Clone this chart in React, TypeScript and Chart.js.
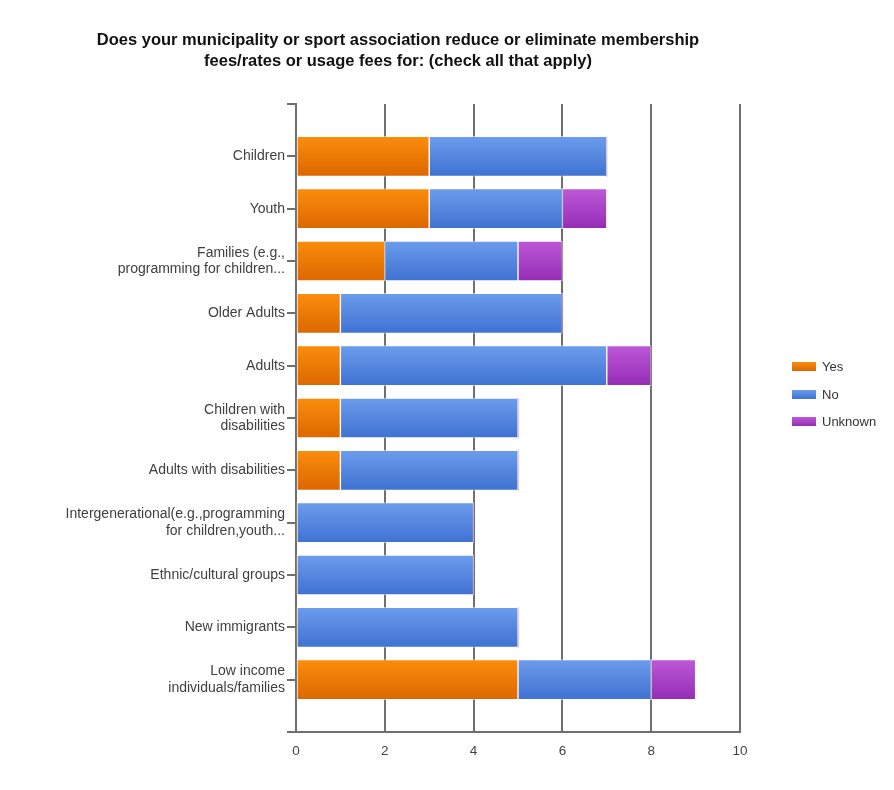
import React, { useEffect, useRef } from "react";
import { Chart, registerables } from "chart.js";

Chart.register(...registerables);

const titleLines = [
  "Does your municipality or sport association reduce or eliminate membership",
  "fees/rates or usage fees for: (check all that apply)",
];

const categories: (string | string[])[] = [
  "Children",
  "Youth",
  ["Families (e.g.,", "programming for children..."],
  "Older Adults",
  "Adults",
  ["Children with", "disabilities"],
  "Adults with disabilities",
  ["Intergenerational(e.g.,programming", "for children,youth..."],
  "Ethnic/cultural groups",
  "New immigrants",
  ["Low income", "individuals/families"],
];

const seriesNames = ["Yes", "No", "Unknown"];
const yesValues = [3, 3, 2, 1, 1, 1, 1, 0, 0, 0, 5];
const noValues = [4, 3, 3, 5, 6, 4, 4, 4, 4, 5, 3];
const unknownValues = [0, 1, 1, 0, 1, 0, 0, 0, 0, 0, 1];

const xTickValues = [0, 2, 4, 6, 8, 10];

const palette = [
  { top: "#fb8d0c", bottom: "#dc6700" },
  { top: "#6b9cec", bottom: "#3f72d2" },
  { top: "#bd58d8", bottom: "#952db4" },
];

const FONT = "'Liberation Sans', Arial, sans-serif";
const BAR_THICKNESS = 40;

export default function App() {
  const canvasRef = useRef<HTMLCanvasElement | null>(null);

  useEffect(() => {
    const canvas = canvasRef.current;
    if (!canvas) return;

    const seriesValues = [yesValues, noValues, unknownValues];

    const makeBg = (si: number) => (ctx: any) => {
      const chart = ctx.chart;
      const area = chart.chartArea;
      const yScale = chart.scales?.y;
      if (!area || !yScale || ctx.type !== "data") return palette[si].top;
      const yc = yScale.getPixelForValue(ctx.raw.y);
      const g = chart.ctx.createLinearGradient(0, yc - BAR_THICKNESS / 2, 0, yc + BAR_THICKNESS / 2);
      g.addColorStop(0, palette[si].top);
      g.addColorStop(1, palette[si].bottom);
      return g;
    };

    const datasets = seriesNames.map((name, si) => ({
      label: name,
      data: seriesValues[si].map((v, i) => ({ x: v, y: i })),
      backgroundColor: makeBg(si),
      borderColor: "rgba(255,255,255,0.55)",
      borderWidth: (ctx: any) => (ctx.raw && ctx.raw.x > 0 ? 1 : 0),
      borderSkipped: false,
      barThickness: BAR_THICKNESS,
    }));

    const chart = new Chart(canvas, {
      type: "bar",
      data: { datasets },
      options: {
        indexAxis: "y",
        responsive: false,
        animation: false,
        layout: { padding: { top: 104, right: 154, bottom: 0, left: 0 } },
        plugins: {
          legend: { display: false },
          title: { display: false },
          tooltip: { enabled: false },
        },
        scales: {
          x: {
            type: "linear",
            stacked: true,
            min: 0,
            max: 10,
            offset: false,
            afterBuildTicks: (scale: any) => {
              scale.ticks = xTickValues.map((v) => ({ value: v }));
            },
            afterFit: (scale: any) => {
              scale.height = 58;
            },
            grid: {
              color: "#6f6f6f",
              lineWidth: 2,
              drawTicks: false,
              offset: false,
            },
            border: { display: true, color: "#6f6f6f", width: 2 },
            ticks: {
              color: "#444",
              font: { family: FONT, size: 13.5 },
              padding: 11,
            },
          },
          y: {
            type: "linear",
            stacked: true,
            reverse: true,
            offset: false,
            min: -1,
            max: categories.length,
            afterBuildTicks: (scale: any) => {
              const t = [];
              for (let v = -1; v <= categories.length; v++) t.push({ value: v });
              scale.ticks = t;
            },
            afterFit: (scale: any) => {
              scale.width = 296;
            },
            grid: {
              offset: false,
              drawOnChartArea: false,
              drawTicks: true,
              tickLength: 9,
              color: "#6f6f6f",
              lineWidth: 2,
            },
            border: { display: true, color: "#6f6f6f", width: 2 },
            ticks: {
              autoSkip: false,
              color: "#404040",
              padding: 2,
              font: { family: FONT, size: 14, lineHeight: 1.15 },
              callback: (value: any) => {
                const v = Number(value);
                return Number.isInteger(v) && v >= 0 && v < categories.length ? categories[v] : "";
              },
            },
          },
        },
      },
    });

    return () => {
      chart.destroy();
    };
  }, []);

  return (
    <div style={{ position: "absolute", left: 0, top: 0, width: 894, height: 790, background: "#fff" }}>
      <canvas ref={canvasRef} width={894} height={790} style={{ position: "absolute", left: 0, top: 0 }} />
      <div
        style={{
          position: "absolute",
          left: 0,
          top: 29,
          width: 796,
          textAlign: "center",
          fontFamily: FONT,
          fontWeight: "bold",
          fontSize: 16.5,
          lineHeight: "21px",
          color: "#111",
        }}
      >
        {titleLines.map((l, i) => (
          <div key={i}>{l}</div>
        ))}
      </div>
      <div style={{ position: "absolute", left: 792, top: 353, fontFamily: FONT, fontSize: 13, color: "#333" }}>
        {seriesNames.map((name, si) => (
          <div key={name} style={{ display: "flex", alignItems: "center", height: 27.5 }}>
            <span
              style={{
                display: "inline-block",
                width: 24,
                height: 9,
                marginRight: 6,
                background: `linear-gradient(${palette[si].top}, ${palette[si].bottom})`,
              }}
            />
            <span>{name}</span>
          </div>
        ))}
      </div>
    </div>
  );
}
